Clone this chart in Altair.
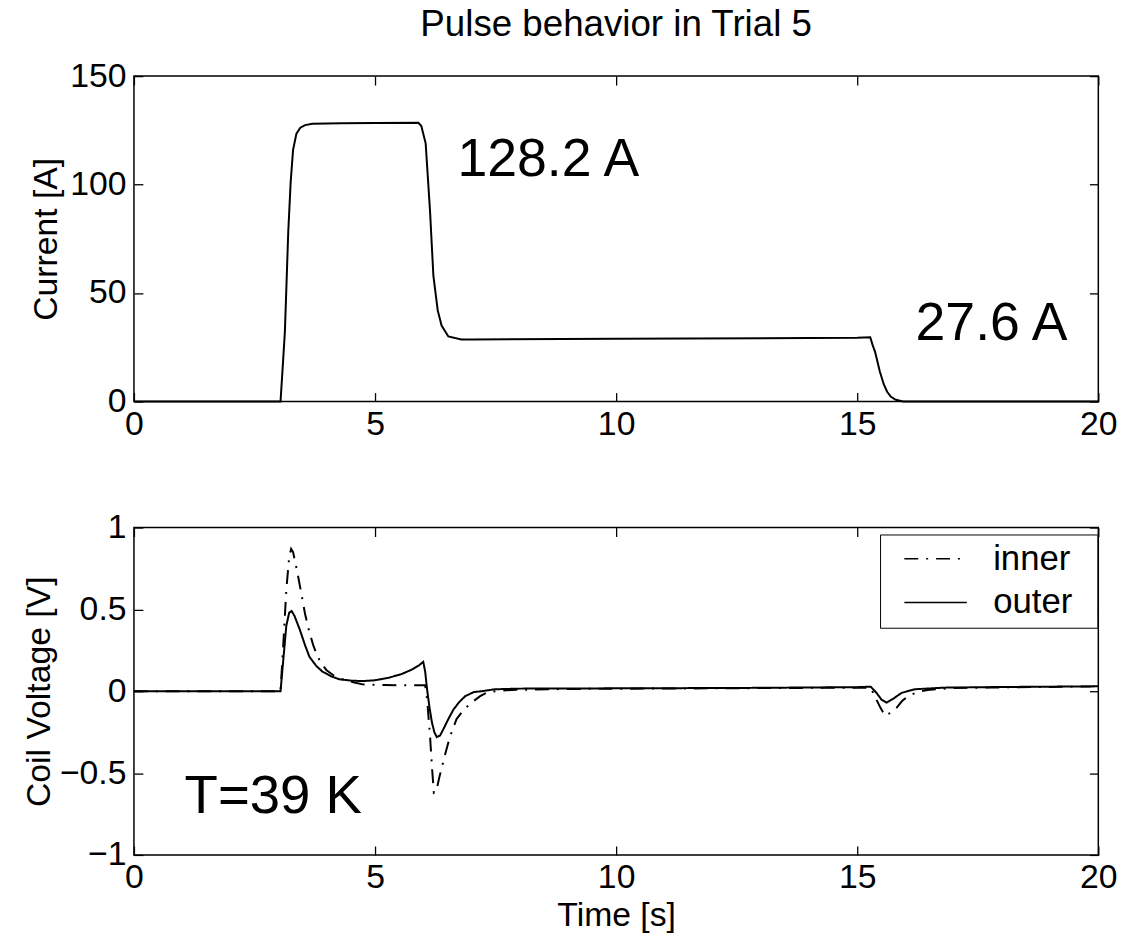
import altair as alt
import pandas as pd

# ---------------- data ----------------
t_cur = [0, 3.04, 3.08, 3.13, 3.2, 3.25, 3.3, 3.37, 3.45, 3.55, 3.7, 4.3, 5.0, 5.9,
         5.96, 6.05, 6.14, 6.21, 6.3, 6.38, 6.52, 6.79, 7.0, 10.0, 15.0, 15.27,
         15.32, 15.37, 15.47, 15.55, 15.62, 15.7, 15.8, 15.95, 20.0]
i_cur = [0, 0, 14, 32, 78, 101, 116, 123.5, 126.2, 127.4, 128.0, 128.3, 128.4, 128.5,
         127, 119, 88, 58, 42, 35, 30, 28.6, 28.6, 28.9, 29.4, 29.6,
         26, 22.9, 13.7, 8, 4.5, 2.2, 0.8, 0, 0]

t_outer = [0, 3.04, 3.1, 3.16, 3.22, 3.27, 3.33, 3.44, 3.55, 3.64, 3.78, 3.91, 4.1,
           4.26, 4.5, 4.74, 5.0, 5.29, 5.55, 5.77, 5.92, 6.0, 6.04, 6.08, 6.13, 6.18,
           6.23, 6.28, 6.35, 6.42, 6.52, 6.63, 6.75, 6.87, 7.05, 7.21, 7.48, 8.0,
           10.2, 12.5, 15.0, 15.28, 15.4, 15.5, 15.61, 15.75, 15.92, 16.19, 16.8,
           18.0, 20.0]
v_outer = [0, 0, 0.2, 0.40, 0.48, 0.49, 0.46, 0.376, 0.28, 0.21, 0.155, 0.12, 0.09,
           0.073, 0.065, 0.062, 0.067, 0.083, 0.105, 0.133, 0.16, 0.18, 0.12, 0.01,
           -0.1, -0.19, -0.25, -0.28, -0.27, -0.23, -0.17, -0.11, -0.065, -0.03,
           -0.005, 0.0, 0.012, 0.016, 0.018, 0.02, 0.025, 0.028, -0.01, -0.05, -0.07,
           -0.045, -0.01, 0.012, 0.022, 0.026, 0.03]

t_inner = [0, 3.04, 3.1, 3.16, 3.22, 3.26, 3.3, 3.38, 3.47, 3.55, 3.64, 3.72, 3.81,
           3.9, 3.99, 4.15, 4.33, 4.55, 4.74, 5.2, 5.8, 6.04, 6.08, 6.14, 6.18, 6.22,
           6.27, 6.33, 6.38, 6.45, 6.55, 6.69, 6.85, 7.0, 7.18, 7.35, 7.83, 9.0,
           12.0, 15.0, 15.28, 15.38, 15.48, 15.58, 15.7, 15.82, 15.93, 16.05, 16.25,
           16.46, 17.0, 20.0]
v_inner = [0, 0, 0.3, 0.62, 0.82, 0.87, 0.85, 0.74, 0.6, 0.47, 0.36, 0.28, 0.21,
           0.165, 0.13, 0.095, 0.073, 0.055, 0.042, 0.038, 0.036, 0.036, -0.05, -0.27,
           -0.46, -0.62, -0.61, -0.53, -0.47, -0.39, -0.28, -0.17, -0.11, -0.07, -0.03,
           -0.004, 0.008, 0.014, 0.018, 0.022, 0.022, -0.04, -0.1, -0.15, -0.13,
           -0.1, -0.06, -0.03, -0.005, 0.008, 0.02, 0.03]

series_names = ["inner", "outer"]

x_ticks = [0, 5, 10, 15, 20]
cur_ticks = [0, 50, 100, 150]
volt_ticks = [-1, -0.5, 0, 0.5, 1]

cur_notes = ["128.2 A", "27.6 A"]
cur_note_t = [6.71, 16.21]
cur_note_v = [104.0, 28.5]
volt_notes = ["T=39 K"]
volt_note_t = [1.05]
volt_note_v = [-0.745]

# ---------------- tables ----------------
cur_df = pd.DataFrame({"t": t_cur, "I": i_cur})
volt_df = pd.concat([
    pd.DataFrame({"t": t_inner, "V": v_inner, "coil": series_names[0], "o": range(len(t_inner))}),
    pd.DataFrame({"t": t_outer, "V": v_outer, "coil": series_names[1], "o": range(len(t_outer))}),
])
cur_note_df = pd.DataFrame({"t": cur_note_t, "v": cur_note_v, "txt": cur_notes})
volt_note_df = pd.DataFrame({"t": volt_note_t, "v": volt_note_v, "txt": volt_notes})

W = 972
H1 = 328
H2 = 330
FONT = "Liberation Sans"
TICK_FS = 34
TITLE_FS = 34
NOTE_FS = 54


def xscale():
    return alt.Scale(domain=[0, 20], nice=False, zero=False)


def main_x_axis(title=None):
    kw = dict(orient="bottom", values=x_ticks, tickSize=0, domain=False, grid=False,
              labelPadding=6, labelFontSize=TICK_FS, labelFont=FONT, labelColor="black",
              labelFlush=False)
    if title:
        kw.update(title=title, titleFontSize=TITLE_FS, titleFont=FONT,
                  titleFontWeight="normal", titleColor="black", titlePadding=4)
    else:
        kw.update(title=None)
    return alt.Axis(**kw)


def main_y_axis(values, title, fmt, tpad):
    return alt.Axis(orient="left", values=values, tickSize=0, domain=False, grid=False,
                    labelPadding=8, labelFontSize=TICK_FS, labelFont=FONT,
                    labelColor="black", format=fmt, labelFlush=False,
                    title=title, titleFontSize=TITLE_FS, titleFont=FONT,
                    titleFontWeight="normal", titleColor="black", titlePadding=tpad)


def tick_axis(orient, values, offset):
    return alt.Axis(orient=orient, values=values, offset=offset, labels=False,
                    domain=False, grid=False, ticks=True, tickSize=9,
                    tickColor="black", tickWidth=1.3, title=None)


def tick_layers(df, xf, yf, ydom, yvals, H):
    ys = alt.Scale(domain=ydom, nice=False, zero=False)
    a = alt.Chart(df).mark_line(opacity=0).encode(
        x=alt.X(f"{xf}:Q", scale=xscale(), axis=tick_axis("top", x_ticks, -H)),
        y=alt.Y(f"{yf}:Q", scale=ys, axis=tick_axis("right", yvals, -W)),
    )
    b = alt.Chart(df).mark_line(opacity=0).encode(
        x=alt.X(f"{xf}:Q", scale=xscale(), axis=tick_axis("bottom", x_ticks, -H)),
        y=alt.Y(f"{yf}:Q", scale=ys, axis=tick_axis("left", yvals, -W)),
    )
    return [a, b]


# ---------------- top panel: current ----------------
cur_scale = alt.Scale(domain=[0, 150], nice=False, zero=False)
cur_line = alt.Chart(cur_df).mark_line(color="black", strokeWidth=2).encode(
    x=alt.X("t:Q", scale=xscale(), axis=main_x_axis()),
    y=alt.Y("I:Q", scale=cur_scale, axis=main_y_axis(cur_ticks, "Current [A]", "d", 6)),
)
cur_text = alt.Chart(cur_note_df).mark_text(
    align="left", baseline="alphabetic", fontSize=NOTE_FS, font=FONT, color="black"
).encode(
    x=alt.X("t:Q", scale=xscale(), axis=None),
    y=alt.Y("v:Q", scale=cur_scale, axis=None),
    text="txt:N",
)
top = alt.layer(
    cur_line, *tick_layers(cur_df, "t", "I", [0, 150], cur_ticks, H1), cur_text
).resolve_axis(x="independent", y="independent").properties(
    width=W, height=H1,
    title=alt.TitleParams("Pulse behavior in Trial 5", fontSize=37, font=FONT,
                          fontWeight="normal", color="black", anchor="middle",
                          frame="group", offset=15),
)

# ---------------- bottom panel: voltage ----------------
# legend symbol: a 63 px line (path units of 10.5 px), with invisible move-to
# points that widen the legend box like the reference frame
LEG_SYMBOL = "M-1.33,0M0,0H6M17.5,0"
volt_scale = alt.Scale(domain=[-1, 1], nice=False, zero=False)
volt_line = alt.Chart(volt_df).mark_line(color="black", strokeWidth=2).encode(
    x=alt.X("t:Q", scale=xscale(), axis=main_x_axis("Time [s]")),
    y=alt.Y("V:Q", scale=volt_scale,
            axis=main_y_axis(volt_ticks, "Coil Voltage [V]", ".1~f", 3)),
    strokeDash=alt.StrokeDash(
        "coil:N",
        scale=alt.Scale(domain=series_names, range=[[14, 8, 2, 8], [1, 0]]),
        legend=alt.Legend(orient="none", legendX=752, legendY=7, title=None,
                          symbolType=LEG_SYMBOL, symbolSize=441, symbolStrokeWidth=1.6,
                          symbolStrokeColor="black", symbolFillColor="transparent",
                          labelFontSize=35, labelFont=FONT,
                          labelColor="black", labelOffset=72, padding=7,
                          strokeColor="black", fillColor="white", rowPadding=8),
    ),
    order="o:Q",
)
volt_text = alt.Chart(volt_note_df).mark_text(
    align="left", baseline="alphabetic", fontSize=NOTE_FS + 1, font=FONT, color="black"
).encode(
    x=alt.X("t:Q", scale=xscale(), axis=None),
    y=alt.Y("v:Q", scale=volt_scale, axis=None),
    text="txt:N",
)
bottom = alt.layer(
    volt_line, *tick_layers(volt_df, "t", "V", [-1, 1], volt_ticks, H2), volt_text
).resolve_axis(x="independent", y="independent").properties(width=W, height=H2)

chart = alt.vconcat(top, bottom, spacing=68).resolve_legend(
    strokeDash="independent"
).properties(
    padding={"left": 22, "top": 2, "right": 20, "bottom": 2},
    background="white",
).configure_view(stroke="black", strokeWidth=1.5)

chart.save("out.html", embed_options={"renderer": "svg", "actions": False})
